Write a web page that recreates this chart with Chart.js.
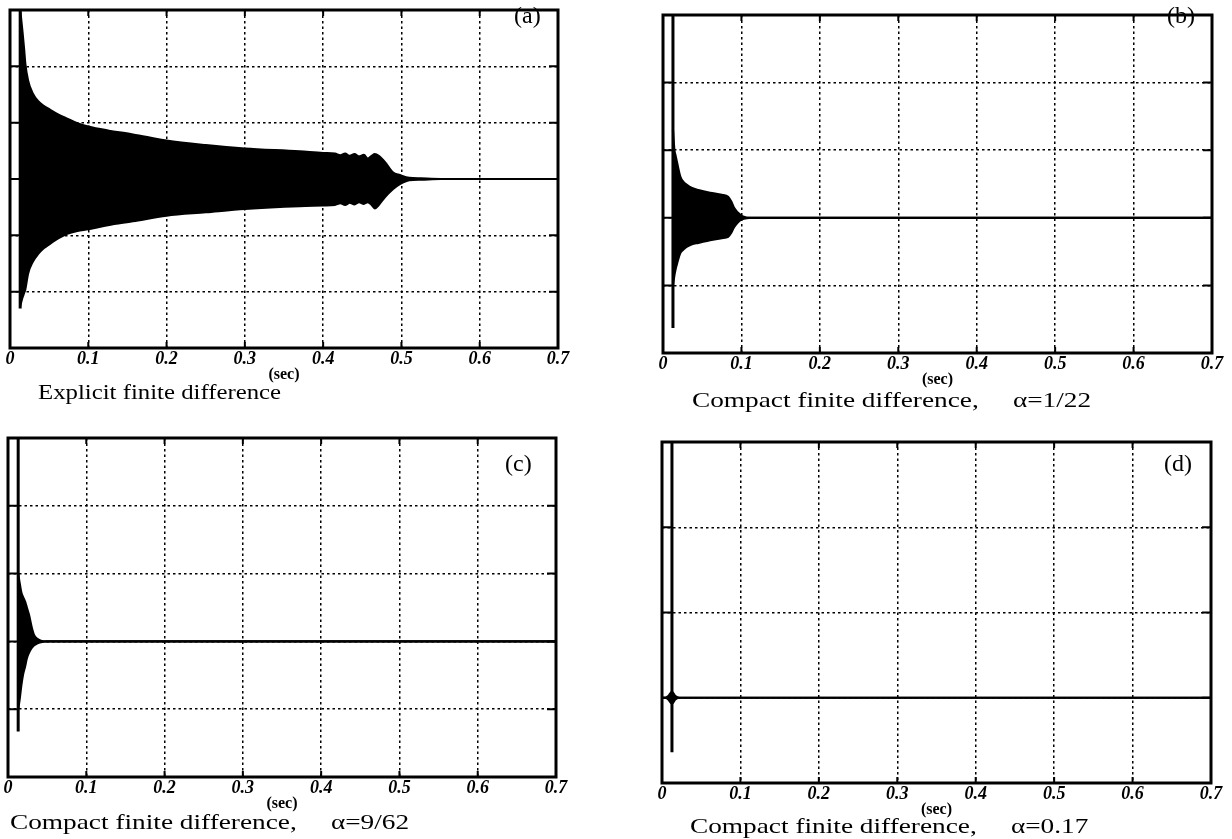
<!DOCTYPE html>
<html>
<head>
<meta charset="utf-8">
<script src="https://cdn.jsdelivr.net/npm/chart.js@4.4.1/dist/chart.umd.min.js"></script>
<style>
  body { margin: 0; background: #fff; width: 1232px; height: 839px; position: relative; overflow: hidden;
         font-family: "Liberation Serif", "Times New Roman", serif; color: #000; }
  canvas { position: absolute; }
  .cap { position: absolute; font-size: 21px; white-space: pre; transform-origin: 0 0; transform: scaleX(1.18); }
  .cap.wide { transform: scaleX(1.3); }
  .tag { position: absolute; font-size: 24px; }
</style>
</head>
<body>
<canvas id="ca"></canvas>
<canvas id="cb"></canvas>
<canvas id="cc"></canvas>
<canvas id="cd"></canvas>

<div class="tag" style="left:514px;top:2px">(a)</div>
<div class="tag" style="left:1167px;top:2px">(b)</div>
<div class="tag" style="left:505px;top:450px">(c)</div>
<div class="tag" style="left:1164px;top:450px">(d)</div>

<div class="cap" style="left:38px;top:380px">Explicit finite difference</div>
<div class="cap wide" style="left:692px;top:388px">Compact finite difference,     α=1/22</div>
<div class="cap wide" style="left:10px;top:810px">Compact finite difference,     α=9/62</div>
<div class="cap wide" style="left:690px;top:814px">Compact finite difference,     α=0.17</div>

<script>
// x ticks (seconds)
const xTicks = [0, 0.1, 0.2, 0.3, 0.4, 0.5, 0.6, 0.7];

// (a) explicit finite difference: envelope of the oscillation
const tA  = [0.013, 0.016, 0.018, 0.0195, 0.023, 0.029, 0.036, 0.043, 0.051, 0.062, 0.073, 0.086, 0.1, 0.125, 0.157, 0.2, 0.25, 0.3, 0.37, 0.4,
             0.415, 0.422, 0.428, 0.434, 0.44, 0.446, 0.452, 0.457, 0.462, 0.466, 0.471, 0.479, 0.489, 0.498, 0.51, 0.525, 0.55, 0.7];
const upA = [3.0, 2.6, 2.3, 2.05, 1.75, 1.52, 1.38, 1.3, 1.23, 1.14, 1.07, 0.99, 0.93, 0.86, 0.79, 0.68, 0.6, 0.54, 0.49, 0.46,
             0.45, 0.42, 0.45, 0.41, 0.44, 0.4, 0.43, 0.36, 0.41, 0.44, 0.41, 0.3, 0.12, 0.07, 0.02, 0.01, 0, 0];
const loA = [-2.25, -2.1, -2.02, -1.96, -1.68, -1.47, -1.33, -1.23, -1.15, -1.05, -0.97, -0.92, -0.89, -0.82, -0.75, -0.65, -0.59, -0.53, -0.48, -0.47,
             -0.46, -0.43, -0.46, -0.42, -0.45, -0.41, -0.44, -0.41, -0.46, -0.52, -0.46, -0.32, -0.18, -0.09, -0.02, -0.01, 0, 0];
const spikeA = [0.013, 3, -2.3];   // time, top, bottom

// (b) compact, alpha = 1/22
const tB  = [0.0127, 0.0145, 0.016, 0.018, 0.022, 0.026, 0.03, 0.037, 0.045, 0.06, 0.075, 0.083, 0.087, 0.09, 0.093, 0.096, 0.099, 0.103, 0.11, 0.7];
const upB = [1.3, 1.0, 0.92, 0.81, 0.61, 0.53, 0.49, 0.44, 0.41, 0.37, 0.34, 0.31, 0.24, 0.16, 0.11, 0.07, 0.04, 0.015, 0, 0];
const loB = [-1.0, -0.85, -0.76, -0.67, -0.52, -0.47, -0.43, -0.39, -0.37, -0.33, -0.3, -0.28, -0.22, -0.15, -0.1, -0.06, -0.035, -0.015, 0, 0];
const spikeB = [0.0127, 3, -1.63];

// (c) compact, alpha = 9/62
const tC  = [0.013, 0.015, 0.017, 0.019, 0.022, 0.024, 0.027, 0.03, 0.033, 0.037, 0.042, 0.05, 0.7];
const upC = [1.0, 0.85, 0.72, 0.66, 0.58, 0.5, 0.38, 0.22, 0.1, 0.04, 0.01, 0, 0];
const loC = [-1.0, -0.84, -0.65, -0.5, -0.36, -0.25, -0.16, -0.1, -0.06, -0.03, -0.01, 0, 0];
const spikeC = [0.013, 3, -1.33];

// (d) compact, alpha = 0.17
const tD  = [0, 0.004, 0.008, 0.0127, 0.017, 0.023, 0.7];
const upD = [0, 0, 0.02, 0.07, 0.02, 0, 0];
const loD = [0, 0, -0.02, -0.07, -0.02, 0, 0];
const spikeD = [0.0127, 3, -0.64];

// frame + little inward ticks, like the old plot
const framePlugin = {
  id: 'frame',
  afterDraw(chart) {
    const { ctx, chartArea: a, scales: { x, y } } = chart;
    ctx.save();
    ctx.strokeStyle = '#000';
    ctx.lineWidth = 2;
    ctx.beginPath();
    x.ticks.forEach(t => {
      const px = x.getPixelForValue(t.value);
      ctx.moveTo(px, a.top); ctx.lineTo(px, a.top + 6);
      ctx.moveTo(px, a.bottom); ctx.lineTo(px, a.bottom - 6);
    });
    y.ticks.forEach(t => {
      const py = y.getPixelForValue(t.value);
      ctx.moveTo(a.left, py); ctx.lineTo(a.left + 9, py);
      ctx.moveTo(a.right, py); ctx.lineTo(a.right - 9, py);
    });
    ctx.stroke();
    ctx.lineWidth = 3;
    ctx.strokeRect(a.left, a.top, a.right - a.left, a.bottom - a.top);
    ctx.restore();
  }
};

function makePanel(id, box, t, up, lo, spike, yMin) {
  const cv = document.getElementById(id);
  cv.width = box.r - box.l + 70;
  cv.height = box.b - box.t + 60;
  cv.style.left = (box.l - 10) + 'px';
  cv.style.top = (box.t - 10) + 'px';

  const line = { borderColor: '#000', pointRadius: 0, cubicInterpolationMode: 'monotone', borderWidth: 2.2 };
  new Chart(cv, {
    type: 'line',
    data: {
      datasets: [
        { ...line, data: t.map((v, i) => ({ x: v, y: up[i] })), fill: '+1', backgroundColor: '#000' },
        { ...line, data: t.map((v, i) => ({ x: v, y: lo[i] })), fill: false },
        { borderColor: '#000', borderWidth: 3, pointRadius: 0, fill: false,
          data: [{ x: spike[0], y: spike[1] }, { x: spike[0], y: spike[2] }] }
      ]
    },
    options: {
      responsive: false,
      animation: false,
      layout: { padding: { left: 10, top: 10, right: 60, bottom: 10 } },
      plugins: { legend: { display: false }, tooltip: { enabled: false } },
      scales: {
        x: {
          type: 'linear', min: 0, max: 0.7,
          afterBuildTicks: s => { s.ticks = xTicks.map(v => ({ value: v })); },
          afterFit: s => { s.height = 40; },
          grid: { color: '#000', lineWidth: 1.5, drawTicks: false },
          border: { display: false, dash: [2.5, 3] },
          ticks: { padding: 1, color: '#000', maxRotation: 0,
                   font: { family: 'Liberation Serif', size: 18, weight: 'bold', style: 'italic' } },
          title: { display: true, text: '(sec)', color: '#000', padding: { top: 0, bottom: 4 },
                   font: { family: 'Liberation Serif', size: 16, weight: 'bold' } }
        },
        y: {
          min: yMin, max: 3,
          ticks: { display: false, stepSize: 1 },
          afterFit: s => { s.width = 0; },
          grid: { color: '#000', lineWidth: 1.5, drawTicks: false },
          border: { display: false, dash: [2.5, 3] }
        }
      }
    },
    plugins: [framePlugin]
  });
}

makePanel('ca', { l: 10, t: 10, r: 558, b: 348 }, tA, upA, loA, spikeA, -3);
makePanel('cb', { l: 663, t: 15, r: 1212, b: 353 }, tB, upB, loB, spikeB, -2);
makePanel('cc', { l: 8, t: 438, r: 556, b: 777 }, tC, upC, loC, spikeC, -2);
makePanel('cd', { l: 662, t: 442, r: 1211, b: 783 }, tD, upD, loD, spikeD, -1);
</script>
</body>
</html>
